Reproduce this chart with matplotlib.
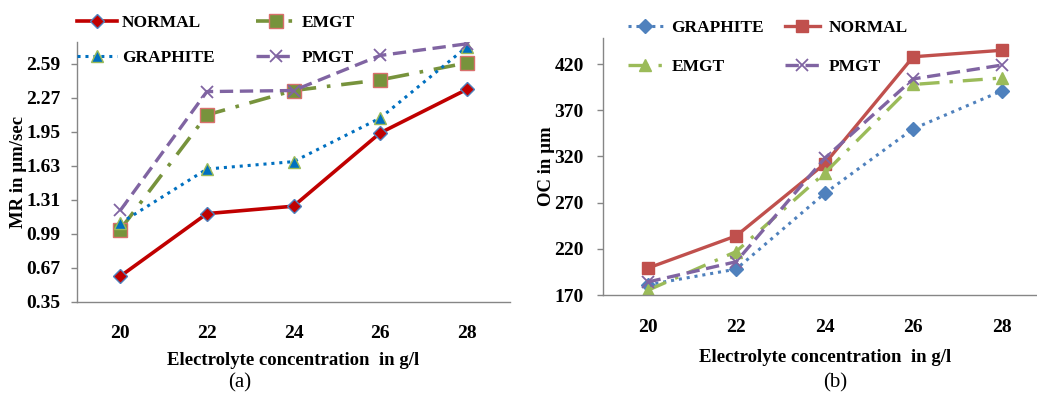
import matplotlib
matplotlib.use("Agg")
import matplotlib.pyplot as plt
from matplotlib.font_manager import FontProperties

categories = ["20", "22", "24", "26", "28"]

# Chart (a): MR in µm/sec
mr_normal = [0.59, 1.18, 1.25, 1.94, 2.35]
mr_emgt = [1.03, 2.11, 2.34, 2.44, 2.60]
mr_graphite = [1.09, 1.60, 1.67, 2.08, 2.75]
mr_pmgt = [1.21, 2.33, 2.34, 2.67, 2.78]
mr_ticks = [0.35, 0.67, 0.99, 1.31, 1.63, 1.95, 2.27, 2.59]

# Chart (b): OC in µm
oc_graphite = [181, 198, 280, 350, 391]
oc_normal = [199, 234, 312, 428, 435]
oc_emgt = [175, 217, 302, 398, 405]
oc_pmgt = [184, 206, 318, 404, 419]
oc_ticks = [170, 220, 270, 320, 370, 420]

plt.rcParams['font.family'] = ['Liberation Serif', 'DejaVu Serif']

fig = plt.figure(figsize=(10.37, 3.99), dpi=100)
W, H = 1037, 399

def px_axes(l, t, r, b):
    return fig.add_axes([l / W, 1 - b / H, (r - l) / W, (b - t) / H])

ax1 = px_axes(77, 41.7, 510, 301.7)
ax2 = px_axes(603.3, 38.3, 1046, 295)

x = list(range(len(categories)))
TICK_FS = 14
LEG_FP = FontProperties(family='Liberation Serif', weight='bold', size=12.5)

for ax in (ax1, ax2):
    for s in ('top', 'right'):
        ax.spines[s].set_visible(False)
    for s in ('left', 'bottom'):
        ax.spines[s].set_color('#868686')
        ax.spines[s].set_linewidth(1.0)
    ax.set_xlim(-0.5, 4.5)
    ax.set_xticks(x)
    ax.set_xticklabels(categories)

# ---- Chart (a)
l1, = ax1.plot(x, mr_normal, color='#C00000', lw=2.6, marker='D', ms=7,
               mfc='#C00000', mec='#4F81BD', mew=1.0, label='NORMAL')
l2, = ax1.plot(x, mr_emgt, color='#77933C', lw=2.6, ls=(0, (6, 3, 1, 3)), marker='s', ms=10,
               mfc='#77933C', mec='#D9706C', mew=1.0, label='EMGT')
l3, = ax1.plot(x, mr_graphite, color='#0070C0', lw=2.2, ls=(0, (1, 1.6)), marker='^', ms=9,
               mfc='#0070C0', mec='#9BBB59', mew=1.0, label='GRAPHITE')
l4, = ax1.plot(x, mr_pmgt, color='#8064A2', lw=2.4, ls=(0, (4, 2)), marker='x', ms=9,
               mec='#8064A2', mew=1.3, label='PMGT')
ax1.set_ylim(0.35, 2.80)
ax1.set_yticks(mr_ticks)
ax1.set_yticklabels([f"{v:.2f}" for v in mr_ticks])
ax1.tick_params(axis='x', length=0, pad=17)
ax1.tick_params(axis='y', length=4, width=1, color='#868686', pad=8)
ax1.set_ylabel('MR in µm/sec', fontsize=13.5, fontweight='bold')
ax1.yaxis.set_label_coords(-0.116, 0.5)
ax1.set_xlabel('Electrolyte concentration  in g/l', fontsize=13.5, fontweight='bold', labelpad=7)
leg1 = ax1.legend([l1, l3, l2, l4], ['NORMAL', 'GRAPHITE', 'EMGT', 'PMGT'], ncol=2,
                  loc='upper left', bbox_to_anchor=(0.0, 1.104), frameon=False, prop=LEG_FP,
                  borderpad=0, borderaxespad=0,
                  handlelength=2.3, handletextpad=0.3, columnspacing=2.4, labelspacing=1.1)
fig.text(240 / W, 1 - 383 / H, '(a)', ha='center', va='center', fontsize=15, fontweight='normal')

# ---- Chart (b)
m1, = ax2.plot(x, oc_graphite, color='#4F81BD', lw=2.2, ls=(0, (1, 1.6)), marker='D', ms=7,
               mfc='#4F81BD', mec='#4F81BD', label='GRAPHITE')
m2, = ax2.plot(x, oc_normal, color='#C0504D', lw=2.4, marker='s', ms=9,
               mfc='#C0504D', mec='#C0504D', label='NORMAL')
m3, = ax2.plot(x, oc_emgt, color='#9BBB59', lw=2.4, ls=(0, (6, 3, 1, 3)), marker='^', ms=9,
               mfc='#9BBB59', mec='#9BBB59', label='EMGT')
m4, = ax2.plot(x, oc_pmgt, color='#8064A2', lw=2.4, ls=(0, (4, 2)), marker='x', ms=9,
               mec='#8064A2', mew=1.3, label='PMGT')
ax2.set_ylim(170, 448)
ax2.set_yticks(oc_ticks)
ax2.tick_params(axis='x', length=0, pad=17)
ax2.tick_params(axis='y', length=4, width=1, color='#868686', pad=10)
ax2.set_ylabel('OC in µm', fontsize=13.5, fontweight='bold')
ax2.yaxis.set_label_coords(-0.11, 0.5)
ax2.set_xlabel('Electrolyte concentration  in g/l', fontsize=13.5, fontweight='bold', labelpad=10)
leg2 = ax2.legend([m1, m3, m2, m4], ['GRAPHITE', 'EMGT', 'NORMAL', 'PMGT'], ncol=2,
                  loc='upper left', bbox_to_anchor=(0.056, 1.071), frameon=False, prop=LEG_FP,
                  borderpad=0, borderaxespad=0,
                  handlelength=2.0, handletextpad=0.5, columnspacing=1.2, labelspacing=1.3)
fig.text(835 / W, 1 - 383 / H, '(b)', ha='center', va='center', fontsize=15, fontweight='normal')

for ax in (ax1, ax2):
    for lab in ax.get_xticklabels() + ax.get_yticklabels():
        lab.set_fontweight('bold')
        lab.set_fontsize(TICK_FS)

fig.savefig('out.png', dpi=100)
